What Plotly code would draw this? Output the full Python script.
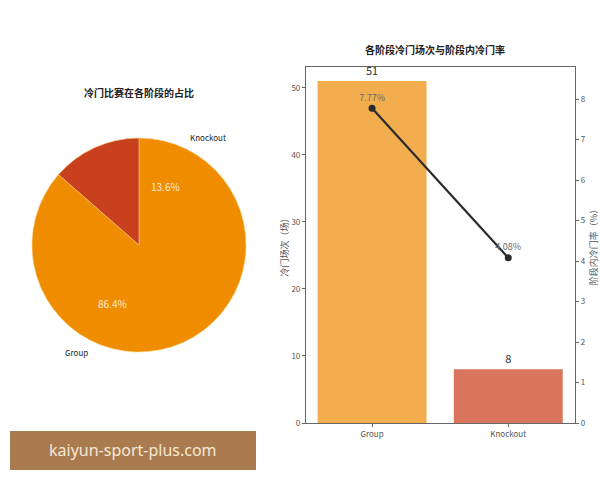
import math
import plotly.graph_objects as go

stages = ["Group", "Knockout"]
upset_counts = [51, 8]
upset_rates = [7.77, 4.08]

pie_colors = ["#EF8C00", "#C8401E"]
bar_colors = ["#F2AE4E", "#D9755C"]
FONT = "Noto Sans CJK SC, Liberation Sans, sans-serif"

W, H = 600, 480
# pie geometry (pixels)
pcx, pcy, pr = 139, 245, 107

fig = go.Figure()
fig.add_trace(go.Pie(
    labels=stages, values=upset_counts, sort=False, direction="counterclockwise",
    rotation=0, marker=dict(colors=pie_colors, line=dict(color="#F7D27A", width=0.6)),
    textinfo="none", hoverinfo="label+percent", showlegend=False, automargin=False,
    domain=dict(x=[(pcx - pr) / W, (pcx + pr) / W], y=[1 - (pcy + pr) / H, 1 - (pcy - pr) / H]),
))

# pie labels and percentages (positions derived from data)
total = sum(upset_counts)
start = 90.0
for lab, v in zip(stages, upset_counts):
    frac = v / total
    mid = start + frac * 360 / 2
    start += frac * 360
    ang = math.radians(mid)
    cx, cy = math.cos(ang), math.sin(ang)
    fig.add_annotation(x=(pcx + 0.6 * pr * cx) / W, y=1 - (pcy - 0.6 * pr * cy) / H,
                       xref="paper", yref="paper", text=f"{frac*100:.1f}%", showarrow=False,
                       xanchor="center", yanchor="middle",
                       font=dict(family=FONT, size=10, color="#FBEBD6"))
    fig.add_annotation(x=(pcx + 1.1 * pr * cx) / W, y=1 - (pcy - 1.1 * pr * cy) / H,
                       xref="paper", yref="paper", text=lab, showarrow=False,
                       xanchor="left" if cx > 0 else "right", yanchor="middle",
                       font=dict(family=FONT, size=8, color="#222"))

fig.add_annotation(x=pcx / W, y=1 - 92 / H, xref="paper", yref="paper",
                   text="<b>冷门比赛在各阶段的占比</b>", showarrow=False,
                   xanchor="center", yanchor="middle",
                   font=dict(family=FONT, size=10, color="#222"))

# bar chart
fig.add_trace(go.Bar(
    x=stages, y=upset_counts, marker=dict(color=bar_colors, line=dict(width=0)), width=0.8,
    text=[str(v) for v in upset_counts], textposition="outside", cliponaxis=False,
    textfont=dict(family=FONT, size=11, color="#333"),
    xaxis="x", yaxis="y", showlegend=False,
))
fig.add_trace(go.Scatter(
    x=stages, y=upset_rates, mode="lines+markers+text",
    line=dict(color="#2B2B2B", width=2.2), marker=dict(size=7, color="#2B2B2B"),
    text=[f"{v:.2f}%" for v in upset_rates], textposition="top center",
    textfont=dict(family=FONT, size=9, color="#666"),
    xaxis="x", yaxis="y2", showlegend=False, cliponaxis=False,
))

axis_common = dict(showline=True, linecolor="#666", linewidth=1.2, ticks="outside",
                   ticklen=3, tickcolor="#666", showgrid=False, zeroline=False,
                   automargin=False,
                   tickfont=dict(family=FONT, size=8, color="#555"))
fig.update_layout(
    width=W, height=H, margin=dict(l=0, r=0, t=0, b=0, autoexpand=False),
    paper_bgcolor="white", plot_bgcolor="white",
    font=dict(family=FONT),
    xaxis=dict(domain=[306 / W, 575 / W], type="category", range=[-0.485, 1.49],
               mirror=True, anchor="y", **axis_common),
    yaxis=dict(domain=[1 - 423 / H, 1 - 67 / H], range=[0, 53.1], dtick=10, anchor="x",
               title=dict(text="冷门场次（场）", standoff=1,
                          font=dict(family=FONT, size=9, color="#555")),
               **axis_common),
    yaxis2=dict(overlaying="y", side="right", anchor="x", range=[0, 8.79], dtick=1,
                title=dict(text="阶段内冷门率（%）", standoff=6,
                           font=dict(family=FONT, size=9, color="#555")),
                **axis_common),
    bargap=0.2,
)
fig.add_annotation(x=435 / W, y=1 - 50 / H, xref="paper", yref="paper",
                   text="<b>各阶段冷门场次与阶段内冷门率</b>", showarrow=False,
                   xanchor="center", yanchor="middle",
                   font=dict(family=FONT, size=10, color="#222"))

# watermark
fig.add_shape(type="rect", xref="paper", yref="paper", x0=10 / W, x1=256 / W,
              y0=1 - 470 / H, y1=1 - 431 / H, fillcolor="#A97B4F", line=dict(width=0))
fig.add_annotation(x=133 / W, y=1 - 450 / H, xref="paper", yref="paper",
                   text="kaiyun-sport-plus.com", showarrow=False,
                   xanchor="center", yanchor="middle",
                   font=dict(family="Noto Sans, sans-serif", size=16, color="#F6E8D6"))

fig.write_html(
    "out.html",
    config={"displayModeBar": False},
    post_script="document.body.style.margin='0';document.body.style.overflow='hidden';"
                "document.documentElement.style.overflow='hidden';",
)
